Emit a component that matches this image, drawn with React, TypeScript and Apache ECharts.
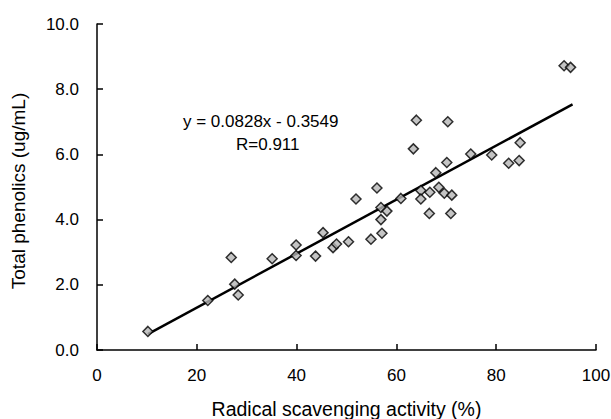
import React, { useEffect, useRef } from "react";
import * as echarts from "echarts";

const scavenging = [10.2, 22.2, 26.9, 27.6, 28.3, 35.1, 39.9, 39.9, 43.8, 45.3, 47.3, 48.0, 50.4, 51.9, 54.9, 56.1, 56.9, 58.1, 56.9, 57.1, 60.9, 63.4, 64.0, 64.9, 64.9, 66.7, 66.6, 67.9, 68.5, 69.6, 70.1, 70.3, 71.1, 70.9, 74.9, 79.1, 82.5, 84.6, 84.8, 93.6, 94.9];
const phenolics = [0.57, 1.52, 2.84, 2.02, 1.69, 2.80, 3.22, 2.90, 2.88, 3.60, 3.14, 3.25, 3.32, 4.63, 3.40, 4.97, 4.37, 4.26, 4.00, 3.58, 4.65, 6.17, 7.05, 4.89, 4.63, 4.84, 4.19, 5.44, 4.99, 4.81, 5.75, 7.00, 4.75, 4.19, 6.01, 5.98, 5.73, 5.81, 6.36, 8.72, 8.67];
const slope = 0.0828;
const intercept = -0.3549;
const fitRange = [10.2, 95.3];
const xTicks = [0, 20, 40, 60, 80, 100];
const yTicks = [0, 2, 4, 6, 8, 10];
const equationText = "y = 0.0828x - 0.3549";
const rText = "R=0.911";

export default function App() {
  const ref = useRef<HTMLDivElement>(null);
  useEffect(() => {
    if (!ref.current) return;
    const chart = echarts.init(ref.current, null, { renderer: "svg" });
    const font = "'Liberation Sans', Arial, sans-serif";
    const points = scavenging.map((x, i) => [x, phenolics[i]]);
    const fit = fitRange.map((x) => [x, slope * x + intercept]);
    chart.setOption({
      animation: false,
      backgroundColor: "#fff",
      grid: { left: 97, right: 15, top: 24, bottom: 69, outerBoundsMode: "none", containLabel: false },
      xAxis: {
        type: "value",
        min: xTicks[0],
        max: xTicks[xTicks.length - 1],
        interval: 20,
        name: "Radical scavenging activity (%)",
        nameLocation: "middle",
        nameGap: 49,
        nameTextStyle: { color: "#000", fontSize: 19.5, fontFamily: font },
        axisLine: { show: true, lineStyle: { color: "#000", width: 1.5 } },
        axisTick: { show: true, inside: true, length: 6, lineStyle: { color: "#000", width: 1.5 } },
        axisLabel: { color: "#000", fontSize: 17, fontFamily: font, margin: 17 },
        splitLine: { show: false },
      },
      yAxis: {
        type: "value",
        min: yTicks[0],
        max: yTicks[yTicks.length - 1],
        interval: 2,
        name: "Total phenolics (ug/mL)",
        nameLocation: "middle",
        nameGap: 69,
        nameTextStyle: { color: "#000", fontSize: 19, fontFamily: font, padding: [0, 8, 0, 0] },
        axisLine: { show: true, lineStyle: { color: "#000", width: 1.5 } },
        axisTick: { show: true, inside: true, length: 6, lineStyle: { color: "#000", width: 1.5 } },
        axisLabel: { color: "#000", fontSize: 17, fontFamily: font, margin: 18, formatter: (v: number) => v.toFixed(1) },
        splitLine: { show: false },
      },
      series: [
        {
          type: "line",
          data: fit,
          symbol: "none",
          lineStyle: { color: "#000", width: 2.5 },
          z: 1,
        },
        {
          type: "scatter",
          data: points,
          symbol: "diamond",
          symbolSize: 10,
          itemStyle: { color: "#b5b5b5", borderColor: "#000", borderWidth: 1.5 },
          z: 2,
        },
      ],
      graphic: [
        {
          type: "text",
          left: 183,
          top: 113,
          style: { text: equationText, fill: "#000", fontSize: 17, fontFamily: font },
        },
        {
          type: "text",
          left: 236,
          top: 136,
          style: { text: rText, fill: "#000", fontSize: 17, fontFamily: font },
        },
      ],
    });
    return () => chart.dispose();
  }, []);
  return <div ref={ref} style={{ position: "absolute", left: 0, top: 0, width: 611, height: 419 }} />;
}
